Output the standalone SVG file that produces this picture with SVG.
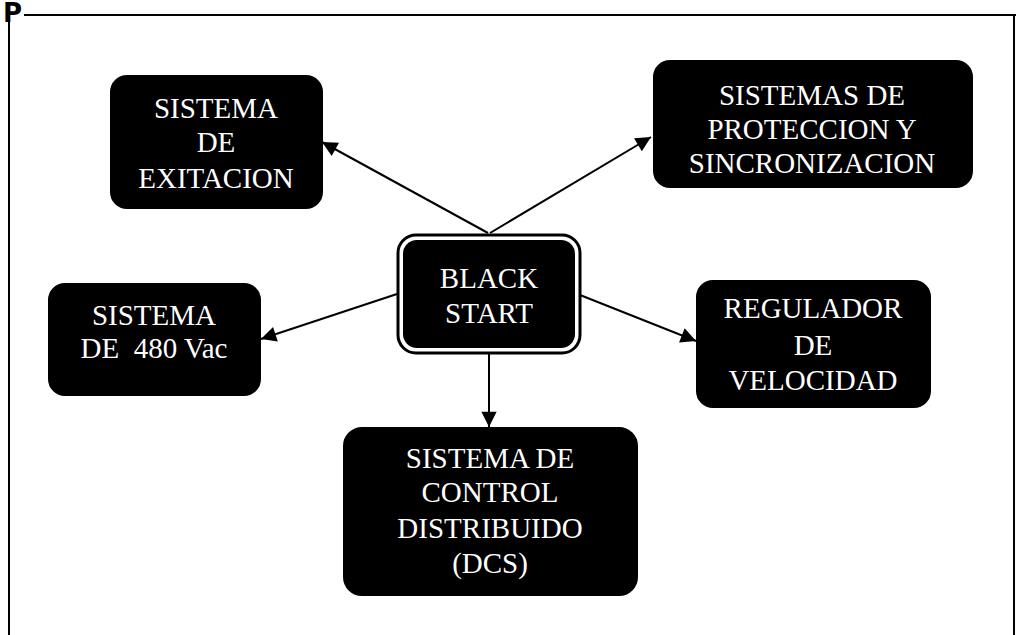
<svg xmlns="http://www.w3.org/2000/svg" width="1016" height="635" viewBox="0 0 1016 635">
<style>
.box{fill:#000;stroke:#000;stroke-width:2}
.t{font-family:"Liberation Serif","Times New Roman",serif;font-size:29px;fill:#fff;text-anchor:middle}
.c{stroke:#000;stroke-width:2;fill:none;marker-end:url(#ah)}
.frame{stroke:#000;stroke-width:2;fill:none}
</style>
<defs>
<marker id="ah" viewBox="0 0 10 10" refX="10" refY="5" markerWidth="8" markerHeight="8" markerUnits="userSpaceOnUse" orient="auto" overflow="visible">
<path d="M0,0 L10,5 L0,10 z" fill="#000" transform="scale(1.9)" transform-origin="10 5"/>
</marker>
</defs>
<rect width="1016" height="635" fill="#fff"/>
<g id="frame">
<path class="frame" d="M9,18 V635 M24,15 H1016 M1014,15 V635"/>
<text x="3" y="22" font-family="DejaVu Sans, sans-serif" font-weight="bold" font-size="26" fill="#000">P</text>
</g>
<g id="connectors">
<line class="c" x1="488" y1="233" x2="322" y2="142"/>
<line class="c" x1="490" y1="233" x2="651" y2="137"/>
<line class="c" x1="397" y1="294" x2="261" y2="339"/>
<line class="c" x1="580" y1="295" x2="696" y2="341"/>
<line class="c" x1="489" y1="353" x2="489" y2="427"/>
</g>
<g id="black-start">
<rect x="398" y="235" width="182" height="118" rx="18" fill="#fff" stroke="#000" stroke-width="3"/>
<rect x="403" y="240" width="172" height="108" rx="14" fill="#000"/>
<text class="t" x="489" y="288">BLACK</text>
<text class="t" x="489" y="323">START</text>
</g>
<g id="sistema-exitacion">
<rect class="box" x="111" y="76" width="211" height="132" rx="16"/>
<text class="t" x="216" y="118">SISTEMA</text>
<text class="t" x="216" y="152">DE</text>
<text class="t" x="216" y="188">EXITACION</text>
</g>
<g id="sistemas-proteccion">
<rect class="box" x="654" y="61" width="318" height="126" rx="16"/>
<text class="t" x="812" y="105">SISTEMAS DE</text>
<text class="t" x="812" y="139">PROTECCION Y</text>
<text class="t" x="812" y="173">SINCRONIZACION</text>
</g>
<g id="sistema-480">
<rect class="box" x="49" y="284" width="211" height="111" rx="16"/>
<text class="t" x="154" y="325">SISTEMA</text>
<text class="t" x="154" y="358" xml:space="preserve">DE  480 Vac</text>
</g>
<g id="regulador">
<rect class="box" x="697" y="281" width="233" height="126" rx="16"/>
<text class="t" x="813" y="318">REGULADOR</text>
<text class="t" x="813" y="355">DE</text>
<text class="t" x="813" y="390">VELOCIDAD</text>
</g>
<g id="dcs">
<rect class="box" x="344" y="428" width="293" height="167" rx="18"/>
<text class="t" x="490" y="468">SISTEMA DE</text>
<text class="t" x="490" y="502">CONTROL</text>
<text class="t" x="490" y="538">DISTRIBUIDO</text>
<text class="t" x="490" y="573">(DCS)</text>
</g>
</svg>
